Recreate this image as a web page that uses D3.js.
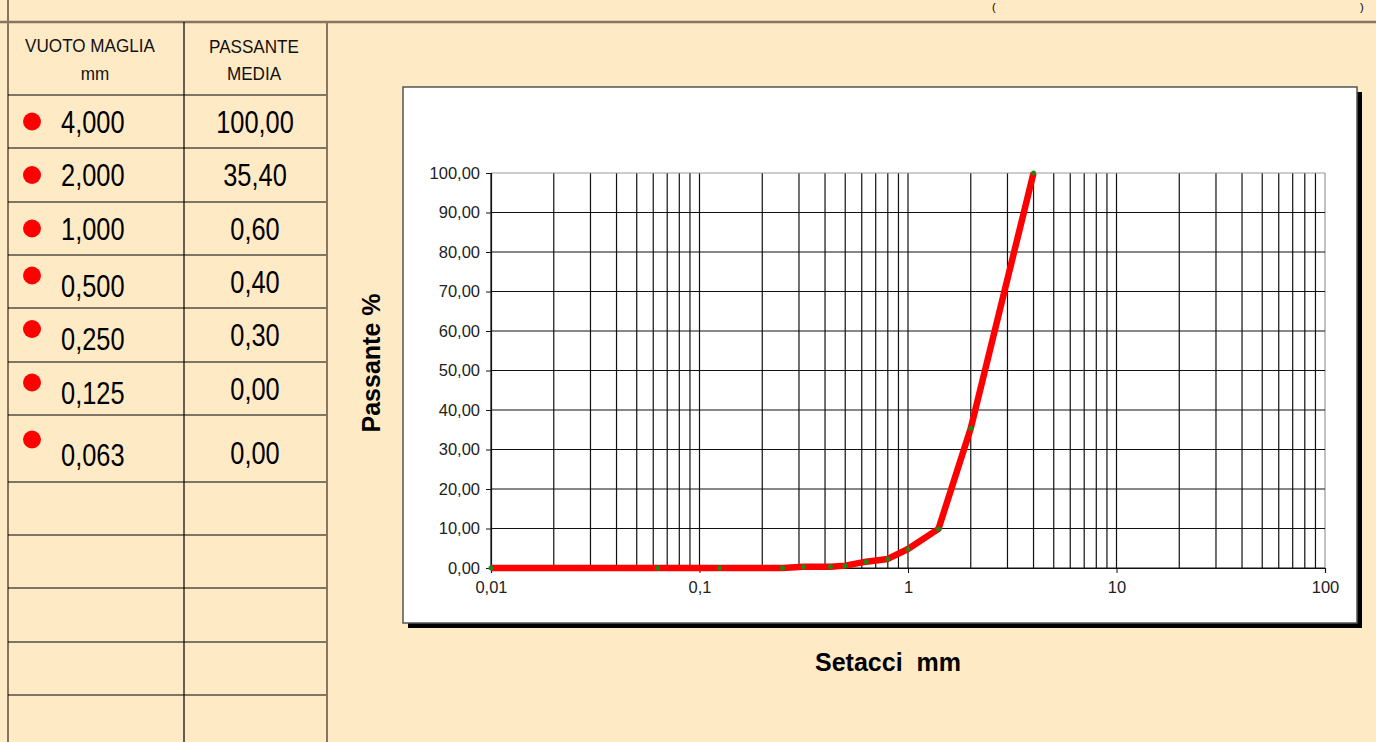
<!DOCTYPE html>
<html>
<head>
<meta charset="utf-8">
<script src="https://cdn.jsdelivr.net/npm/d3@7"></script>
<style>
  html, body { margin: 0; padding: 0; background: #FFEAC6; overflow: hidden; }
  svg { display: block; }
</style>
</head>
<body>
<div id="chart"></div>
<script>
// table contents
const sieveLabels = ['4,000', '2,000', '1,000', '0,500', '0,250', '0,125', '0,063'];
const passingLabels = ['100,00', '35,40', '0,60', '0,40', '0,30', '0,00', '0,00'];

// curve (sieve mm, passing %)
const curveSieves = [0.01, 0.063, 0.125, 0.25, 0.315, 0.425, 0.5, 0.63, 0.8, 1.0, 1.4, 2.0, 4.0];
const curvePassing = [0, 0, 0, 0, 0.3, 0.3, 0.6, 1.6, 2.3, 4.8, 9.9, 35.4, 100];

const yTicks = [0, 10, 20, 30, 40, 50, 60, 70, 80, 90, 100];
const xTicks = [0.01, 0.1, 1, 10, 100];
const xTickLabels = ['0,01', '0,1', '1', '10', '100'];

const W = 1376, H = 742;
const sans = '"Liberation Sans", Arial, sans-serif';

const svg = d3.select('#chart').append('svg')
  .attr('width', W)
  .attr('height', H);

// narrow text: regular Arial-like font squeezed horizontally
function narrowText(px, py, str, size, anchor, sx) {
  return svg.append('g').attr('transform', `translate(${px},${py}) scale(${sx || 0.82},1)`)
    .append('text').attr('text-anchor', anchor || 'start').text(str)
    .style('font-family', sans).style('font-size', size + 'px').attr('fill', '#000');
}

// ---- page frame lines
const frameColor = '#857562';
svg.append('line').attr('x1', 0).attr('x2', W).attr('y1', 22).attr('y2', 22)
  .attr('stroke', frameColor).attr('stroke-width', 2.5);
svg.append('line').attr('x1', 8).attr('x2', 8).attr('y1', 0).attr('y2', H)
  .attr('stroke', frameColor).attr('stroke-width', 2);

// title brackets at the top (the title itself is out of view)
svg.append('text').attr('x', 992).attr('y', 11).text('(')
  .style('font-family', sans).style('font-size', '11px');
svg.append('text').attr('x', 1360).attr('y', 11).text(')')
  .style('font-family', sans).style('font-size', '11px');

// ---- table
const rowLines = [95, 148, 202, 255, 308, 362, 415, 482, 535, 588, 642, 695];
rowLines.forEach(y => {
  svg.append('line').attr('x1', 8).attr('x2', 327).attr('y1', y).attr('y2', y)
    .attr('stroke', '#000').attr('stroke-width', 1.2);
});
svg.append('line').attr('x1', 184).attr('x2', 184).attr('y1', 22).attr('y2', H)
  .attr('stroke', '#000').attr('stroke-width', 1.2);
svg.append('line').attr('x1', 327).attr('x2', 327).attr('y1', 22).attr('y2', H)
  .attr('stroke', frameColor).attr('stroke-width', 2);

// header
narrowText(90, 52, 'VUOTO MAGLIA', 19, 'middle', 0.9).attr('fill', '#111');
narrowText(95, 80, 'mm', 19, 'middle', 0.9).attr('fill', '#111');
narrowText(254, 53, 'PASSANTE', 19, 'middle', 0.9).attr('fill', '#111');
narrowText(254, 80, 'MEDIA', 19, 'middle', 0.9).attr('fill', '#111');

// rows
sieveLabels.forEach((s, i) => {
  const top = rowLines[i], bottom = rowLines[i + 1];
  const mid = (top + bottom) / 2;
  const shift = i < 3 ? 0 : (i === 6 ? 6 : 4);
  svg.append('circle').attr('cx', 32).attr('cy', mid - (i < 3 ? 0 : 6) - (i === 6 ? 3 : 0))
    .attr('r', 9).attr('fill', '#FF0000');
  narrowText(61, mid + 11 + shift, s, 31, 'start');
  narrowText(255, mid + 11 + (i === 6 ? 4 : 0), passingLabels[i], 31, 'middle');
});

// ---- chart box with shadow
svg.append('rect').attr('x', 408).attr('y', 92).attr('width', 954).attr('height', 536).attr('fill', '#000');
svg.append('rect').attr('x', 403).attr('y', 87).attr('width', 954).attr('height', 536)
  .attr('fill', '#fff').attr('stroke', '#555').attr('stroke-width', 1.5);

// scales
const x = d3.scaleLog().domain([0.01, 100]).range([491, 1325]);
const y = d3.scaleLinear().domain([0, 100]).range([568, 173]);

// vertical grid: 1..9 in every decade
const gridX = [];
[0.01, 0.1, 1, 10].forEach(d => { for (let k = 1; k < 10; k++) gridX.push(d * k); });
gridX.push(100);
svg.append('g').selectAll('line').data(gridX).enter().append('line')
  .attr('x1', d => x(d)).attr('x2', d => x(d))
  .attr('y1', y(100)).attr('y2', y(0))
  .attr('stroke', (d, i) => i === gridX.length - 1 ? '#999' : '#111')
  .attr('stroke-width', 1.2);

// horizontal grid
svg.append('g').selectAll('line').data(yTicks).enter().append('line')
  .attr('x1', x(0.01)).attr('x2', x(100))
  .attr('y1', d => y(d)).attr('y2', d => y(d))
  .attr('stroke', d => d === 100 ? '#999' : '#111')
  .attr('stroke-width', 1.2);

// y axis
const yAxis = svg.append('g').attr('transform', `translate(${x(0.01)},0)`)
  .call(d3.axisLeft(y).tickValues(yTicks).tickSize(5).tickPadding(6)
    .tickFormat(d => d3.format('.2f')(d).replace('.', ',')));
yAxis.attr('font-size', null).attr('font-family', null);
yAxis.select('.domain').attr('stroke', '#111').attr('stroke-width', 1.2);
yAxis.selectAll('.tick line').attr('stroke', '#111');
yAxis.selectAll('text').style('font-family', sans).style('font-size', '16.5px').attr('fill', '#222');

// x axis
const xAxis = svg.append('g').attr('transform', `translate(0,${y(0)})`)
  .call(d3.axisBottom(x).tickValues(xTicks).tickSize(5).tickPadding(8)
    .tickFormat((d, i) => xTickLabels[i]));
xAxis.attr('font-size', null).attr('font-family', null);
xAxis.select('.domain').attr('stroke', '#111').attr('stroke-width', 1.2);
xAxis.selectAll('.tick line').attr('stroke', '#111');
xAxis.selectAll('text').style('font-family', sans).style('font-size', '16.5px').attr('fill', '#222');

// curve
const pts = curveSieves.map((s, i) => [s, curvePassing[i]]);
svg.append('path').datum(pts)
  .attr('d', d3.line().x(d => x(d[0])).y(d => y(d[1])))
  .attr('fill', 'none').attr('stroke', '#FF0000').attr('stroke-width', 6.5)
  .attr('stroke-linejoin', 'round');
svg.append('g').selectAll('circle').data(pts).enter().append('circle')
  .attr('cx', d => x(d[0])).attr('cy', d => y(d[1])).attr('r', 2.5)
  .attr('fill', '#178A17');

// axis titles
svg.append('text')
  .attr('transform', `translate(380,363) rotate(-90)`)
  .attr('text-anchor', 'middle')
  .text('Passante %')
  .style('font-family', sans).style('font-weight', 'bold').style('font-size', '25px');
svg.append('text')
  .attr('x', 888).attr('y', 671).attr('text-anchor', 'middle')
  .text('Setacci\u00a0\u00a0mm')
  .style('font-family', sans).style('font-weight', 'bold').style('font-size', '25px');
</script>
</body>
</html>
